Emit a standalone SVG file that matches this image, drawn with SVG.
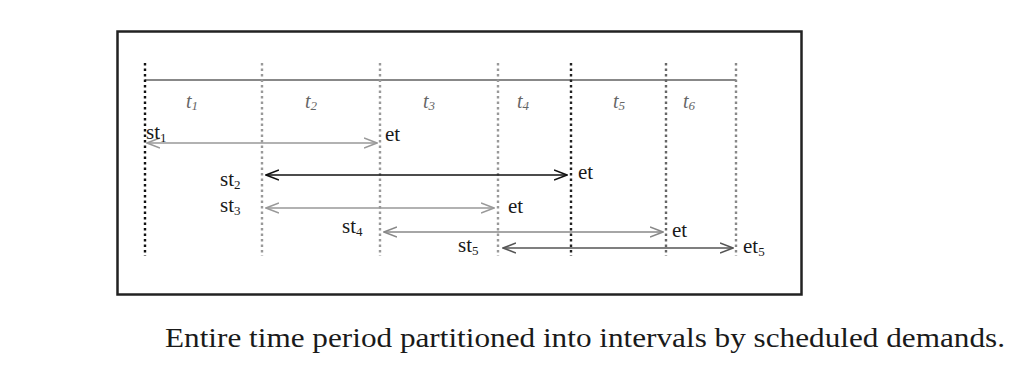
<svg xmlns="http://www.w3.org/2000/svg" width="1012" height="373" viewBox="0 0 1012 373">
<style>
.lbl{font-family:"Liberation Serif","Times New Roman","DejaVu Serif",serif;font-size:21px;fill:#1a1a1a}
.sub{font-size:13px}
.t{font-family:"Liberation Serif","Times New Roman","DejaVu Serif",serif;font-size:20px;font-style:italic;fill:#666}
.vd{stroke-width:2.4;stroke-dasharray:2.5 3;fill:none}
.cap{font-family:"Liberation Serif","Times New Roman","DejaVu Serif",serif;font-size:27px;fill:#1a1a1a}
</style>
<defs>
<marker id="ah" viewBox="0 0 14 14" refX="13" refY="7" markerWidth="14" markerHeight="14" markerUnits="userSpaceOnUse" orient="auto-start-reverse">
<path d="M0,2 L13,7 L0,12" fill="none" stroke="context-stroke" stroke-width="1.6"/>
</marker>
</defs>
<rect width="1012" height="373" fill="#fff"/>
<rect id="frame" x="117.5" y="31.5" width="684" height="263" fill="none" stroke="#222" stroke-width="2.5"/>
<g id="timeline">
<line x1="145" y1="80" x2="736" y2="80" stroke="#888" stroke-width="1.8"/>
<line class="vd" x1="145" y1="63" x2="145" y2="256" stroke="#111"/>
<line class="vd" x1="262" y1="63" x2="262" y2="256" stroke="#999"/>
<line class="vd" x1="380" y1="63" x2="380" y2="256" stroke="#999"/>
<line class="vd" x1="498" y1="63" x2="498" y2="256" stroke="#999"/>
<line class="vd" x1="571" y1="63" x2="571" y2="256" stroke="#222"/>
<line class="vd" x1="666" y1="63" x2="666" y2="256" stroke="#666"/>
<line class="vd" x1="736" y1="63" x2="736" y2="256" stroke="#888"/>
</g>
<g id="intervals">
<text class="t" x="186" y="108">t<tspan class="sub" dy="2">1</tspan></text>
<text class="t" x="305" y="108">t<tspan class="sub" dy="2">2</tspan></text>
<text class="t" x="423" y="108">t<tspan class="sub" dy="2">3</tspan></text>
<text class="t" x="517" y="108">t<tspan class="sub" dy="2">4</tspan></text>
<text class="t" x="613" y="108">t<tspan class="sub" dy="2">5</tspan></text>
<text class="t" x="683" y="108">t<tspan class="sub" dy="2">6</tspan></text>
</g>
<g id="connectors" fill="none" stroke-width="1.7">
<line x1="147" y1="143" x2="377" y2="143" stroke="#999" marker-start="url(#ah)" marker-end="url(#ah)"/>
<line x1="266" y1="175" x2="567" y2="175" stroke="#111" marker-start="url(#ah)" marker-end="url(#ah)"/>
<line x1="266" y1="208" x2="494" y2="208" stroke="#999" marker-start="url(#ah)" marker-end="url(#ah)"/>
<line x1="384" y1="232" x2="663" y2="232" stroke="#888" marker-start="url(#ah)" marker-end="url(#ah)"/>
<line x1="503" y1="248" x2="733" y2="248" stroke="#555" marker-start="url(#ah)" marker-end="url(#ah)"/>
</g>
<g id="demand1">
<text class="lbl" x="146" y="139">st<tspan class="sub" dy="3">1</tspan></text>
<text class="lbl" x="385" y="141">et</text>
</g>
<g id="demand2">
<text class="lbl" x="220" y="186">st<tspan class="sub" dy="3">2</tspan></text>
<text class="lbl" x="578" y="179">et</text>
</g>
<g id="demand3">
<text class="lbl" x="220" y="212">st<tspan class="sub" dy="3">3</tspan></text>
<text class="lbl" x="508" y="213">et</text>
</g>
<g id="demand4">
<text class="lbl" x="342" y="233">st<tspan class="sub" dy="3">4</tspan></text>
<text class="lbl" x="672" y="237">et</text>
</g>
<g id="demand5">
<text class="lbl" x="458" y="252">st<tspan class="sub" dy="3">5</tspan></text>
<text class="lbl" x="743" y="253">et<tspan class="sub" dy="3">5</tspan></text>
</g>
<text id="caption" class="cap" x="165" y="347" textLength="840" lengthAdjust="spacingAndGlyphs">Entire time period partitioned into intervals by scheduled demands.</text>
</svg>
